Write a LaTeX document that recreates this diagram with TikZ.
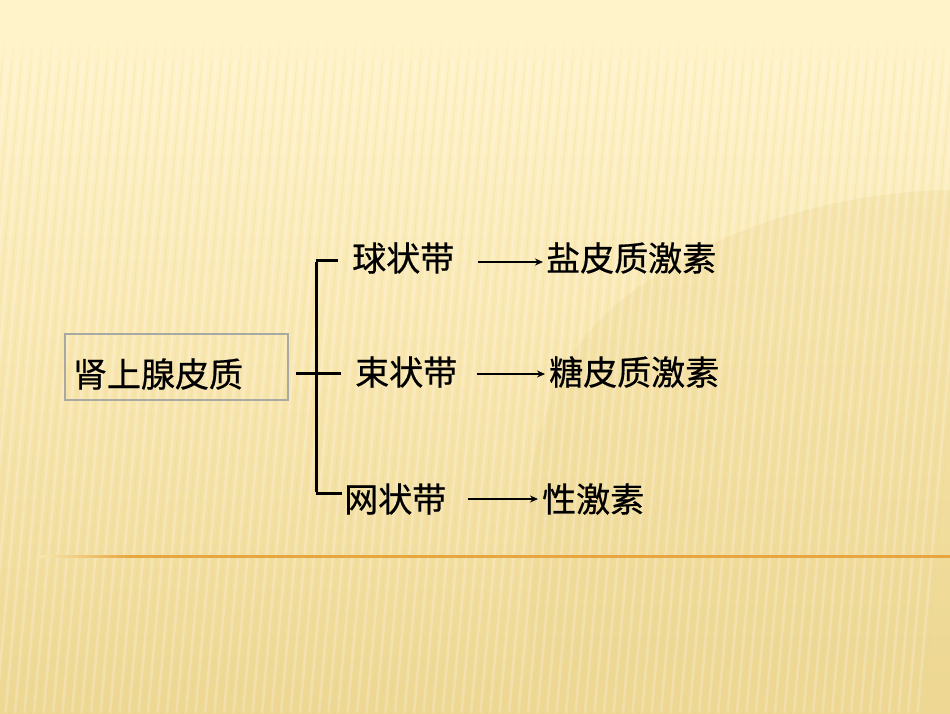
\documentclass[tikz,border=0pt]{standalone}
\usepackage{fontspec}
\newfontfamily\cjk[FakeBold=0.6]{Noto Sans CJK SC}
\usetikzlibrary{arrows.meta}
\definecolor{bgtop}{HTML}{FFF3C9}
\definecolor{bgmid}{HTML}{F8E6AE}
\definecolor{bgbot}{HTML}{EDD792}
\definecolor{rule}{HTML}{E8A640}
\definecolor{boxline}{HTML}{A9A9A4}
\tikzset{
  lbl/.style={font=\cjk\fontsize{34pt}{40pt}\selectfont, inner sep=0pt, anchor=west},
  stem/.style={line width=3pt, black},
  arr/.style={line width=2.2pt, black, -{Stealth[length=8pt,width=7pt]}},
  rootbox/.style={draw=boxline, line width=2.4pt, font=\cjk\fontsize{34pt}{40pt}\selectfont,
     text width=207pt, inner xsep=8pt, minimum height=66pt, align=left},
}
\begin{document}
\begin{tikzpicture}[x=1pt,y=-1pt]
\useasboundingbox (0,0) rectangle (950,713);
% background
\fill[bgtop] (0,0) rectangle (950,40);
\shade[top color=bgtop, bottom color=bgbot, middle color=bgmid] (0,40) rectangle (950,713);
\fill[bgbot, opacity=0.35] (950,190) .. controls (820,192) and (680,240) .. (600,320)
  .. controls (560,360) and (540,420) .. (530,480) -- (530,713) -- (950,713) -- cycle;
\foreach \i in {0,...,105} {
  \draw[white, opacity=0.22, line width=2.5pt] (\i*9.5-20, 45) -- (\i*9.5-80, 713);
  \draw[bgbot, opacity=0.22, line width=1.5pt] (\i*9.5-15, 45) -- (\i*9.5-75, 713);
}
\shade[top color=bgtop, bottom color=bgtop, opacity=0.6] (0,40) rectangle (950,60);
% orange rule
\shade[left color=bgmid, right color=rule] (40,555) rectangle (130,557.5);
\fill[rule] (130,555) rectangle (950,557.5);
% nodes
\node[rootbox] (root) at (176.5,367) {\raisebox{-7pt}[\height][\depth]{肾上腺皮质}};
\node[lbl] (a) at (352,258) {球状带};
\node[lbl] (b) at (355,372) {束状带};
\node[lbl] (c) at (344,499) {网状带};
\node[lbl] (d) at (546,258) {盐皮质激素};
\node[lbl] (e) at (549,372) {糖皮质激素};
\node[lbl] (f) at (542,499) {性激素};
% bracket
\coordinate (jt) at (316,260);
\coordinate (jm) at (316,373);
\coordinate (jb) at (316,493);
\draw[stem] ([yshift=-1.5pt]jt) -- ([yshift=1.5pt]jb);
\draw[stem] (jt) -- ([xshift=-14pt]a.west |- jt);
\draw[stem] ([xshift=7pt]root.east |- jm) -- ([xshift=-14pt]b.west |- jm);
\draw[stem] (jb) -- ([xshift=-2pt]c.west |- jb);
% arrows
\draw[arr] ([xshift=24pt,yshift=-4pt]a.east) -- ([xshift=-3pt,yshift=-4pt]d.west);
\draw[arr] ([xshift=20pt,yshift=-2pt]b.east) -- ([xshift=-4pt,yshift=-2pt]e.west);
\draw[arr] ([xshift=22pt]c.east) -- ([xshift=-4pt]f.west);
\end{tikzpicture}
\end{document}
